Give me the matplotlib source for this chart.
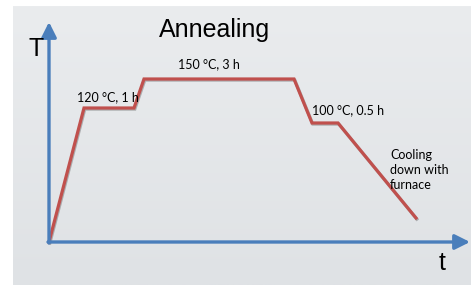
"""
Annealing temperature profile (schematic T over t).
"""

import numpy as np
import matplotlib
matplotlib.use("Agg")
import matplotlib.pyplot as plt
import matplotlib.patheffects as pe

# ---------------------------------------------------------------------------
# Data (arbitrary units read off the schematic)
# ---------------------------------------------------------------------------
time = [0, 35, 85, 95, 245, 263, 289, 367]
temp = [0, 134, 134, 163, 163, 119, 119, 24]

step_labels = ["120 °C, 1 h", "150 °C, 3 h", "100 °C, 0.5 h", "Cooling\ndown with\nfurnace"]
label_time = [28, 129, 263, 341]
label_temp = [145, 178, 132, 72]

title = "Annealing"
x_name = "t"
y_name = "T"

W, H = 471, 285
fig = plt.figure(figsize=(W / 100, H / 100), dpi=100, facecolor="white")

# gray gradient panel behind the drawing
bg = fig.add_axes([13 / W, 0, 1 - 13 / W, 1 - 6 / H])
grad = np.linspace(0, 1, 256).reshape(-1, 1)
bg.imshow(grad, aspect="auto", cmap=matplotlib.colors.LinearSegmentedColormap.from_list(
    "g", ["#eaecee", "#dfe2e5"]), extent=[0, 1, 1, 0])
bg.axis("off")

# main axes: origin at pixel (49, 242)
ax = fig.add_axes([0, 0, 1, 1])
ax.patch.set_alpha(0)
ax.set_xlim(-49, W - 49)
ax.set_ylim(242 - H, 242)
ax.axis("off")

blue = "#4a7ebb"
red = "#c0504d"

# axes arrows
arrow = dict(arrowstyle="-|>,head_length=0.9,head_width=0.45", color=blue, lw=2.4,
             shrinkA=0, shrinkB=0, mutation_scale=10)
ax.annotate("", xy=(0, 220), xytext=(0, -1), arrowprops=arrow)
ax.annotate("", xy=(421, 0), xytext=(-1, 0), arrowprops=arrow)

# temperature profile
ax.plot(time, temp, color=red, lw=2.3, solid_joinstyle="miter",
        path_effects=[pe.SimpleLineShadow(offset=(0.6, -0.8), alpha=0.25), pe.Normal()])

# text
ax.text(166, 212, title, fontsize=18, family="Liberation Sans", ha="center", va="center")
ax.text(-13, 193, y_name, fontsize=18, family="Liberation Sans", ha="center", va="center")
ax.text(393, -21, x_name, fontsize=18, family="Liberation Sans", ha="center", va="center")
for s, tx, ty in zip(step_labels, label_time, label_temp):
    ax.text(tx, ty, s, fontsize=9, family="Lato", ha="left", va="center",
            linespacing=1.3)

fig.savefig("out.png", dpi=100, facecolor="white")
